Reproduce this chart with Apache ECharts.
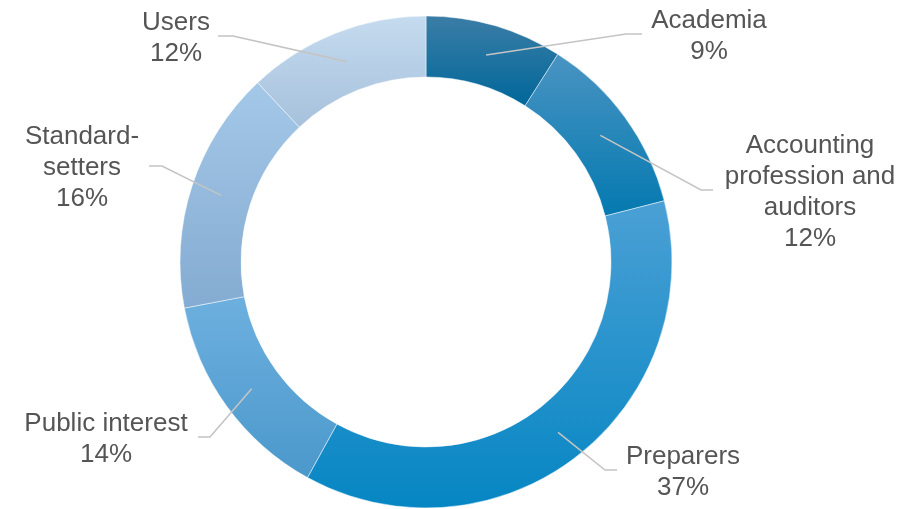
<!DOCTYPE html>
<html>
<head>
<meta charset="utf-8">
<script src="https://cdn.jsdelivr.net/npm/echarts@6/dist/echarts.min.js"></script>
<style>
html,body{margin:0;padding:0;background:#fff;}
#chart{width:912px;height:509px;}
</style>
</head>
<body>
<div id="chart"></div>
<script>
// Data
const categories = ['Academia', 'Accounting\nprofession and\nauditors', 'Preparers', 'Public interest', 'Standard-\nsetters', 'Users'];
const values = [9, 12, 37, 14, 16, 12];
const topColors = ['#3b7da6', '#4994c2', '#4ba0d5', '#6db0df', '#a4c8e8', '#c5dbef'];
const bottomColors = ['#00679a', '#0479b0', '#0586c3', '#4b98cb', '#84abd1', '#a6c1dc'];

// Layout (label centre x, centre y, line end x, elbow x)
const labelPos = [
  [709, 34, 642, 626],
  [810, 190, 713, 701],
  [683, 470, 617, 605],
  [106, 437, 198, 210],
  [82, 166, 149, 162],
  [176, 36, 218, 233]
];
const CX = 426, CY = 262, R_IN = 185, R_OUT = 246;

const total = values.reduce((a, b) => a + b, 0);
const cum = [];
values.reduce((acc, v, i) => { cum[i] = acc; return acc + v; }, 0);

const chart = echarts.init(document.getElementById('chart'), null, {renderer: 'canvas'});
chart.setOption({
  animation: false,
  series: [{
    type: 'pie',
    z: 2,
    center: [CX, CY],
    radius: [R_IN, R_OUT],
    startAngle: 90,
    clockwise: true,
    avoidLabelOverlap: false,
    itemStyle: { borderColor: 'rgba(255,255,255,0.6)', borderWidth: 0.8 },
    emphasis: { disabled: true },
    label: { show: false },
    labelLine: { show: false },
    data: categories.map((name, i) => ({
      name: name,
      value: values[i],
      itemStyle: {
        color: {
          type: 'linear', x: 0, y: 0, x2: 0, y2: 1,
          colorStops: [
            { offset: 0, color: topColors[i] },
            { offset: 1, color: bottomColors[i] }
          ]
        }
      }
    }))
  }, {
    type: 'pie',
    z: 5,
    silent: true,
    center: [CX, CY],
    radius: [R_IN, R_OUT],
    startAngle: 90,
    clockwise: true,
    avoidLabelOverlap: false,
    itemStyle: { color: 'rgba(0,0,0,0)', borderWidth: 0 },
    emphasis: { disabled: true },
    label: {
      show: true,
      formatter: '{b}\n{c}%',
      color: '#555555',
      fontFamily: '"Liberation Sans", Arial, sans-serif',
      fontSize: 26,
      lineHeight: 31,
      align: 'center'
    },
    labelLine: {
      show: true,
      smooth: false,
      lineStyle: { color: '#c4c4c4', width: 1.6 }
    },
    labelLayout: function (params) {
      const i = params.dataIndex;
      const p = labelPos[i];
      const theta = (cum[i] + values[i] / 2) / total * 2 * Math.PI;
      const rm = (R_IN + R_OUT) / 2;
      const p0 = [CX + rm * Math.sin(theta), CY - rm * Math.cos(theta)];
      return {
        x: p[0],
        y: p[1] + 2,
        align: 'center',
        verticalAlign: 'middle',
        labelLinePoints: [p0, [p[3], p[1]], [p[2], p[1]]]
      };
    },
    data: categories.map((name, i) => ({ name: name, value: values[i] }))
  }]
});
</script>
</body>
</html>
